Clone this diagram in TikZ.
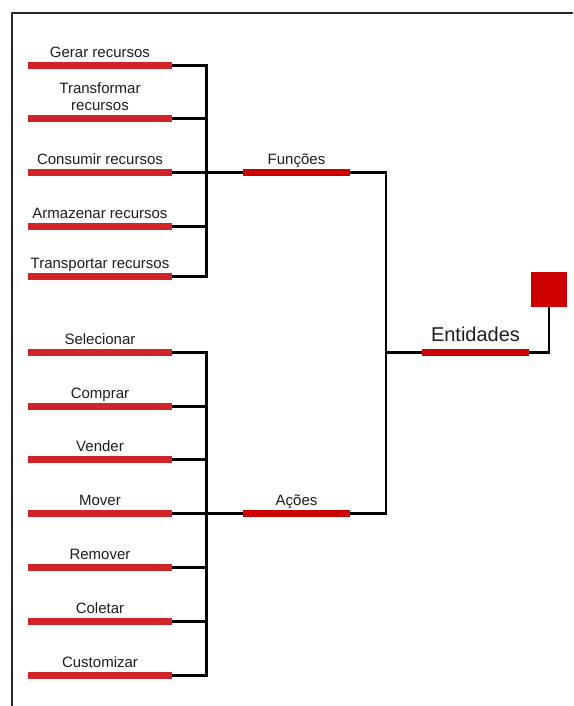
\documentclass[tikz,border=0pt]{standalone}
\usepackage{fontspec}
\setmainfont{Liberation Sans}
\definecolor{barred}{RGB}{208,36,42}
\definecolor{hubred}{RGB}{204,0,0}
\definecolor{ink}{RGB}{30,30,30}
\tikzset{
  leafbar/.style={fill=barred, draw=none, inner sep=0pt, minimum width=144pt, minimum height=7pt},
  hubbar/.style={fill=hubred, draw=none, inner sep=0pt, minimum width=107pt, minimum height=7pt},
  lbl/.style={anchor=base, inner sep=0pt, text=ink, font=\fontsize{15}{16.5}\selectfont, align=center},
  biglbl/.style={anchor=base, inner sep=0pt, text=ink, font=\fontsize{20}{22}\selectfont},
  conn/.style={draw=black, line width=2.6pt},
  frameline/.style={draw=black!85, line width=1.8pt}
}
\begin{document}
\begin{tikzpicture}[x=1pt,y=-1pt]
\useasboundingbox (0,0) rectangle (573,706);
\fill[white] (0,0) rectangle (573,706);

% outer frame (left and top edges)
\draw[frameline] (11.7,706) -- (11.7,13) -- (573,13);

% bus coordinates
\coordinate (busF) at (206.5,172.7);
\coordinate (busA) at (206.5,513.7);
\coordinate (busE) at (386,352.3);

% functions group
\node[leafbar] (g1) at (100,65.8) {};
\node[leafbar] (g2) at (100,118.8) {};
\node[leafbar] (g3) at (100,172.7) {};
\node[leafbar] (g4) at (100,226.7) {};
\node[leafbar] (g5) at (100,276.7) {};
\node[lbl] (t1) at ([yshift=4.5pt]g1.north) {Gerar recursos};
\node[lbl, anchor=south] (t2) at ([yshift=4.5pt]g2.north) {Transformar\\recursos};
\node[lbl] (t3) at ([yshift=4.5pt]g3.north) {Consumir recursos};
\node[lbl] (t4) at ([yshift=4.5pt]g4.north) {Armazenar recursos};
\node[lbl] (t5) at ([yshift=4.5pt]g5.north) {Transportar recursos};

% actions group
\node[leafbar] (a1) at (100,352.3) {};
\node[leafbar] (a2) at (100,406.7) {};
\node[leafbar] (a3) at (100,459.7) {};
\node[leafbar] (a4) at (100,513.7) {};
\node[leafbar] (a5) at (100,567.7) {};
\node[leafbar] (a6) at (100,621.3) {};
\node[leafbar] (a7) at (100,675.3) {};
\node[lbl] (s1) at ([yshift=4.5pt]a1.north) {Selecionar};
\node[lbl] (s2) at ([yshift=4.5pt]a2.north) {Comprar};
\node[lbl] (s3) at ([yshift=4.5pt]a3.north) {Vender};
\node[lbl] (s4) at ([yshift=4.5pt]a4.north) {Mover};
\node[lbl] (s5) at ([yshift=4.5pt]a5.north) {Remover};
\node[lbl] (s6) at ([yshift=4.5pt]a6.north) {Coletar};
\node[lbl] (s7) at ([yshift=4.5pt]a7.north) {Customizar};

% hubs
\node[hubbar] (fun) at (296.5,172.7) {};
\node[hubbar] (act) at (296.5,513.7) {};
\node[lbl] (funl) at ([yshift=4.5pt]fun.north) {Funções};
\node[lbl] (actl) at ([yshift=4.5pt]act.north) {Ações};

\node[hubbar, minimum width=107pt] (ent) at (475.5,352.3) {};
\node[biglbl] (entl) at ([yshift=7pt]ent.north) {Entidades};
\node[fill=hubred, draw=none, inner sep=0pt, minimum width=36pt, minimum height=35pt] (sq) at (549,289.5) {};

% connectors: functions
\draw[conn] (g1.east) -| (busF);
\draw[conn] (g5.east) -| (busF);
\draw[conn] (g2.east) -- (g2.east -| busF);
\draw[conn] (g3.east) -- (busF) -- (fun.west);
\draw[conn] (g4.east) -- (g4.east -| busF);

% connectors: actions
\draw[conn] (a1.east) -| (busA);
\draw[conn] (a7.east) -| (busA);
\draw[conn] (a2.east) -- (a2.east -| busA);
\draw[conn] (a3.east) -- (a3.east -| busA);
\draw[conn] (a4.east) -- (busA) -- (act.west);
\draw[conn] (a5.east) -- (a5.east -| busA);
\draw[conn] (a6.east) -- (a6.east -| busA);

% connectors: entities
\draw[conn] (fun.east) -| (busE);
\draw[conn] (act.east) -| (busE);
\draw[conn] (busE) -- (ent.west);
\draw[conn] (ent.east) -| (sq.south);
\end{tikzpicture}
\end{document}
